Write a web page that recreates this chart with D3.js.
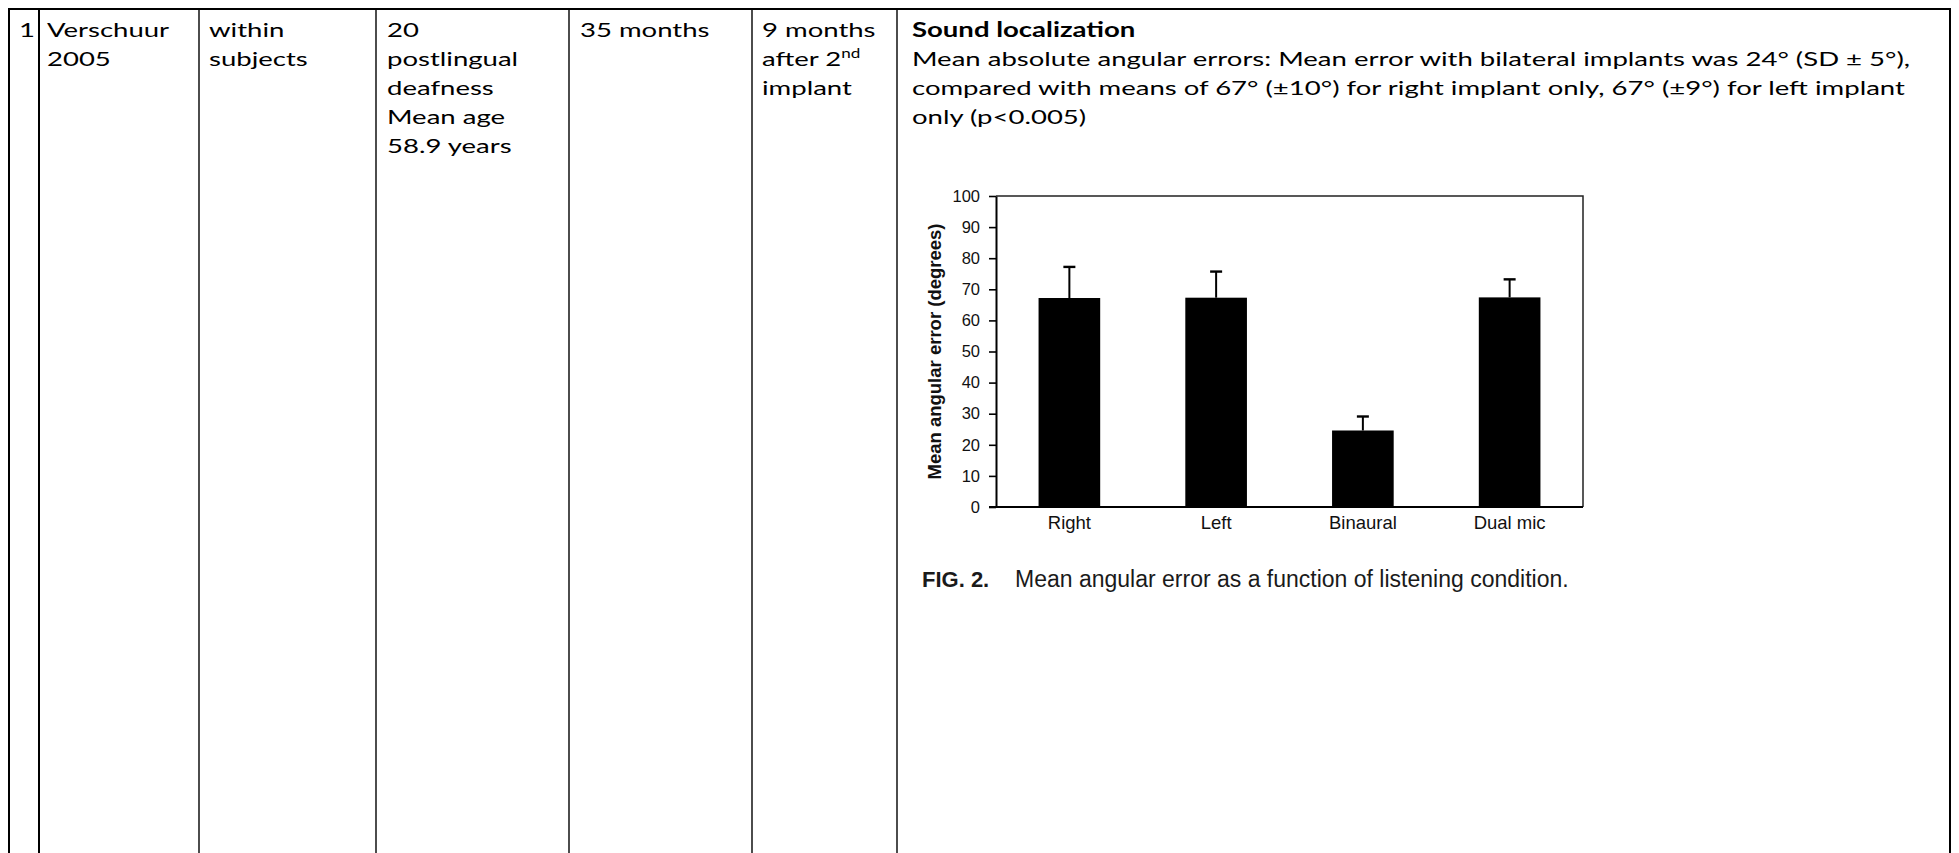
<!DOCTYPE html>
<html>
<head>
<meta charset="utf-8">
<script src="https://cdn.jsdelivr.net/npm/d3@7"></script>
<style>
  body { margin: 0; background: #fff; }
  svg { display: block; }
</style>
</head>
<body>
<div id="viz"></div>
<script>
// chart data
var conditions = ["Right", "Left", "Binaural", "Dual mic"];
var meanError = [67.2, 67.3, 24.6, 67.4];
var sdError = [10, 8.4, 4.5, 5.8];
var yTicks = [0, 10, 20, 30, 40, 50, 60, 70, 80, 90, 100];

// table text
var rowNumber = ["1"];
var studyCell = ["Verschuur", "2005"];
var designCell = ["within", "subjects"];
var sampleCell = ["20", "postlingual", "deafness", "Mean age", "58.9 years"];
var durationCell = ["35 months"];
var followUpCell = ["9 months", "after 2|nd", "implant"];
var resultTitle = "Sound localization";
var resultLines = [
  "Mean absolute angular errors: Mean error with bilateral implants was 24° (SD ± 5°),",
  "compared with means of 67° (±10°) for right implant only, 67° (±9°) for left implant",
  "only (p<0.005)"
];
var figLabel = "FIG. 2.";
var figCaption = "Mean angular error as a function of listening condition.";

var width = 1959,
    height = 853;

var svg = d3.select("#viz")
  .append("svg")
  .attr("width", width)
  .attr("height", height);

// ---- table grid ----
var tableTop = 9,
    tableLeft = 9,
    tableRight = 1950;
var colLines = [39, 199, 376, 569, 752, 897];

svg.append("line")
  .attr("x1", tableLeft - 1).attr("x2", tableRight + 1)
  .attr("y1", tableTop).attr("y2", tableTop)
  .attr("stroke", "#000").attr("stroke-width", 2);

[tableLeft, tableRight].forEach(function(x) {
  svg.append("line")
    .attr("x1", x).attr("x2", x)
    .attr("y1", tableTop).attr("y2", height)
    .attr("stroke", "#000").attr("stroke-width", 2);
});

svg.selectAll(".colline")
  .data(colLines)
  .enter()
  .append("line")
  .attr("class", "colline")
  .attr("x1", function(d) { return d; })
  .attr("x2", function(d) { return d; })
  .attr("y1", tableTop)
  .attr("y2", height)
  .attr("stroke", "#000")
  .attr("stroke-width", function(d, i) { return i === 0 ? 2 : 1.4; });

// ---- table text (Calibri look-alike, stretched a bit wider) ----
var bodyFont = "Lato, 'Open Sans', sans-serif",
    bodySize = 20,
    lineGap = 29,
    firstBase = 36.5,
    stretch = 1.2;

var textLayer = svg.append("g");

function cellLine(x, line, str, bold) {
  var g = textLayer.append("g")
    .attr("transform", "translate(" + x + "," + (firstBase + line * lineGap) + ") scale(" + stretch + ",1)");
  var t = g.append("text")
    .attr("font-family", bodyFont)
    .attr("font-size", bodySize)
    .attr("font-weight", bold ? 700 : 400)
    .attr("fill", "#000");
  var parts = str.split("|");
  t.append("tspan").text(parts[0]);
  if (parts.length > 1) {
    t.append("tspan")
      .attr("font-size", bodySize * 0.62)
      .attr("dy", -8)
      .text(parts[1]);
  }
  return g;
}

function cell(x, lines) {
  lines.forEach(function(s, i) { cellLine(x, i, s, false); });
}

cell(19, rowNumber);
cell(47, studyCell);
cell(209, designCell);
cell(387, sampleCell);
cell(580, durationCell);
cell(762, followUpCell);
cellLine(912, 0, resultTitle, true);
resultLines.forEach(function(s, i) { cellLine(912, i + 1, s, false); });

// fit stretch so the long line matches its width in the cell
var longLine = textLayer.selectAll("text").nodes()[textLayer.selectAll("text").size() - 3];
var w = longLine.getComputedTextLength();
if (w > 0) {
  stretch = 998 / w;
  textLayer.selectAll("g").attr("transform", function() {
    return d3.select(this).attr("transform").replace(/scale\([^)]*\)/, "scale(" + stretch + ",1)");
  });
}

// ---- bar chart ----
var plot = { left: 996, right: 1583, top: 196, bottom: 507 };
var chartFont = "'Liberation Sans', Arial, sans-serif";

var x = d3.scaleBand()
  .domain(conditions)
  .range([plot.left, plot.right])
  .paddingInner(0.58)
  .paddingOuter(0.29);

var y = d3.scaleLinear()
  .domain([0, 100])
  .range([plot.bottom, plot.top]);

var chart = svg.append("g");

var bars = conditions.map(function(c, i) {
  return { name: c, mean: meanError[i], sd: sdError[i] };
});

// error bars (upper half only)
chart.selectAll(".err")
  .data(bars)
  .enter()
  .append("line")
  .attr("class", "err")
  .attr("x1", function(d) { return x(d.name) + x.bandwidth() / 2; })
  .attr("x2", function(d) { return x(d.name) + x.bandwidth() / 2; })
  .attr("y1", function(d) { return y(d.mean); })
  .attr("y2", function(d) { return y(d.mean + d.sd); })
  .attr("stroke", "#000")
  .attr("stroke-width", 2);

chart.selectAll(".cap")
  .data(bars)
  .enter()
  .append("line")
  .attr("class", "cap")
  .attr("x1", function(d) { return x(d.name) + x.bandwidth() / 2 - 6; })
  .attr("x2", function(d) { return x(d.name) + x.bandwidth() / 2 + 6; })
  .attr("y1", function(d) { return y(d.mean + d.sd); })
  .attr("y2", function(d) { return y(d.mean + d.sd); })
  .attr("stroke", "#000")
  .attr("stroke-width", 2.4);

chart.selectAll(".bar")
  .data(bars)
  .enter()
  .append("rect")
  .attr("class", "bar")
  .attr("x", function(d) { return x(d.name); })
  .attr("y", function(d) { return y(d.mean); })
  .attr("width", x.bandwidth())
  .attr("height", function(d) { return y(0) - y(d.mean); })
  .attr("fill", "#000");

// frame top and right
chart.append("path")
  .attr("d", "M" + plot.left + "," + plot.top + "H" + plot.right + "V" + plot.bottom)
  .attr("fill", "none")
  .attr("stroke", "#222")
  .attr("stroke-width", 1.5);

// y axis
var yAxis = chart.append("g")
  .attr("transform", "translate(" + plot.left + ",0)")
  .call(d3.axisLeft(y).tickValues(yTicks).tickSize(7).tickSizeOuter(0).tickPadding(9));
yAxis.select(".domain").attr("stroke", "#000").attr("stroke-width", 2);
yAxis.selectAll(".tick line").attr("stroke", "#000").attr("stroke-width", 1.6);
yAxis.selectAll("text")
  .attr("font-family", chartFont)
  .attr("font-size", 16.5)
  .attr("fill", "#111");

// x axis (baseline, labels only)
var xAxis = chart.append("g")
  .attr("transform", "translate(0," + plot.bottom + ")")
  .call(d3.axisBottom(x).tickSize(0).tickSizeOuter(0).tickPadding(9));
xAxis.select(".domain").attr("stroke", "#000").attr("stroke-width", 2)
  .attr("d", "M" + (plot.left - 7) + ",0H" + plot.right);
xAxis.selectAll("text")
  .attr("font-family", chartFont)
  .attr("font-size", 18.5)
  .attr("fill", "#111");

// y title
chart.append("text")
  .attr("transform", "translate(941," + ((plot.top + plot.bottom) / 2) + ") rotate(-90)")
  .attr("text-anchor", "middle")
  .attr("font-family", chartFont)
  .attr("font-weight", "bold")
  .attr("font-size", 18.5)
  .attr("fill", "#111")
  .text("Mean angular error (degrees)");

// caption
var cap = chart.append("text")
  .attr("x", 922)
  .attr("y", 587)
  .attr("font-family", chartFont)
  .attr("font-size", 23)
  .attr("fill", "#1a1a1a");
cap.append("tspan").attr("font-weight", "bold").attr("font-size", 22).text(figLabel);
cap.append("tspan").attr("x", 1015).text(figCaption);
</script>
</body>
</html>
